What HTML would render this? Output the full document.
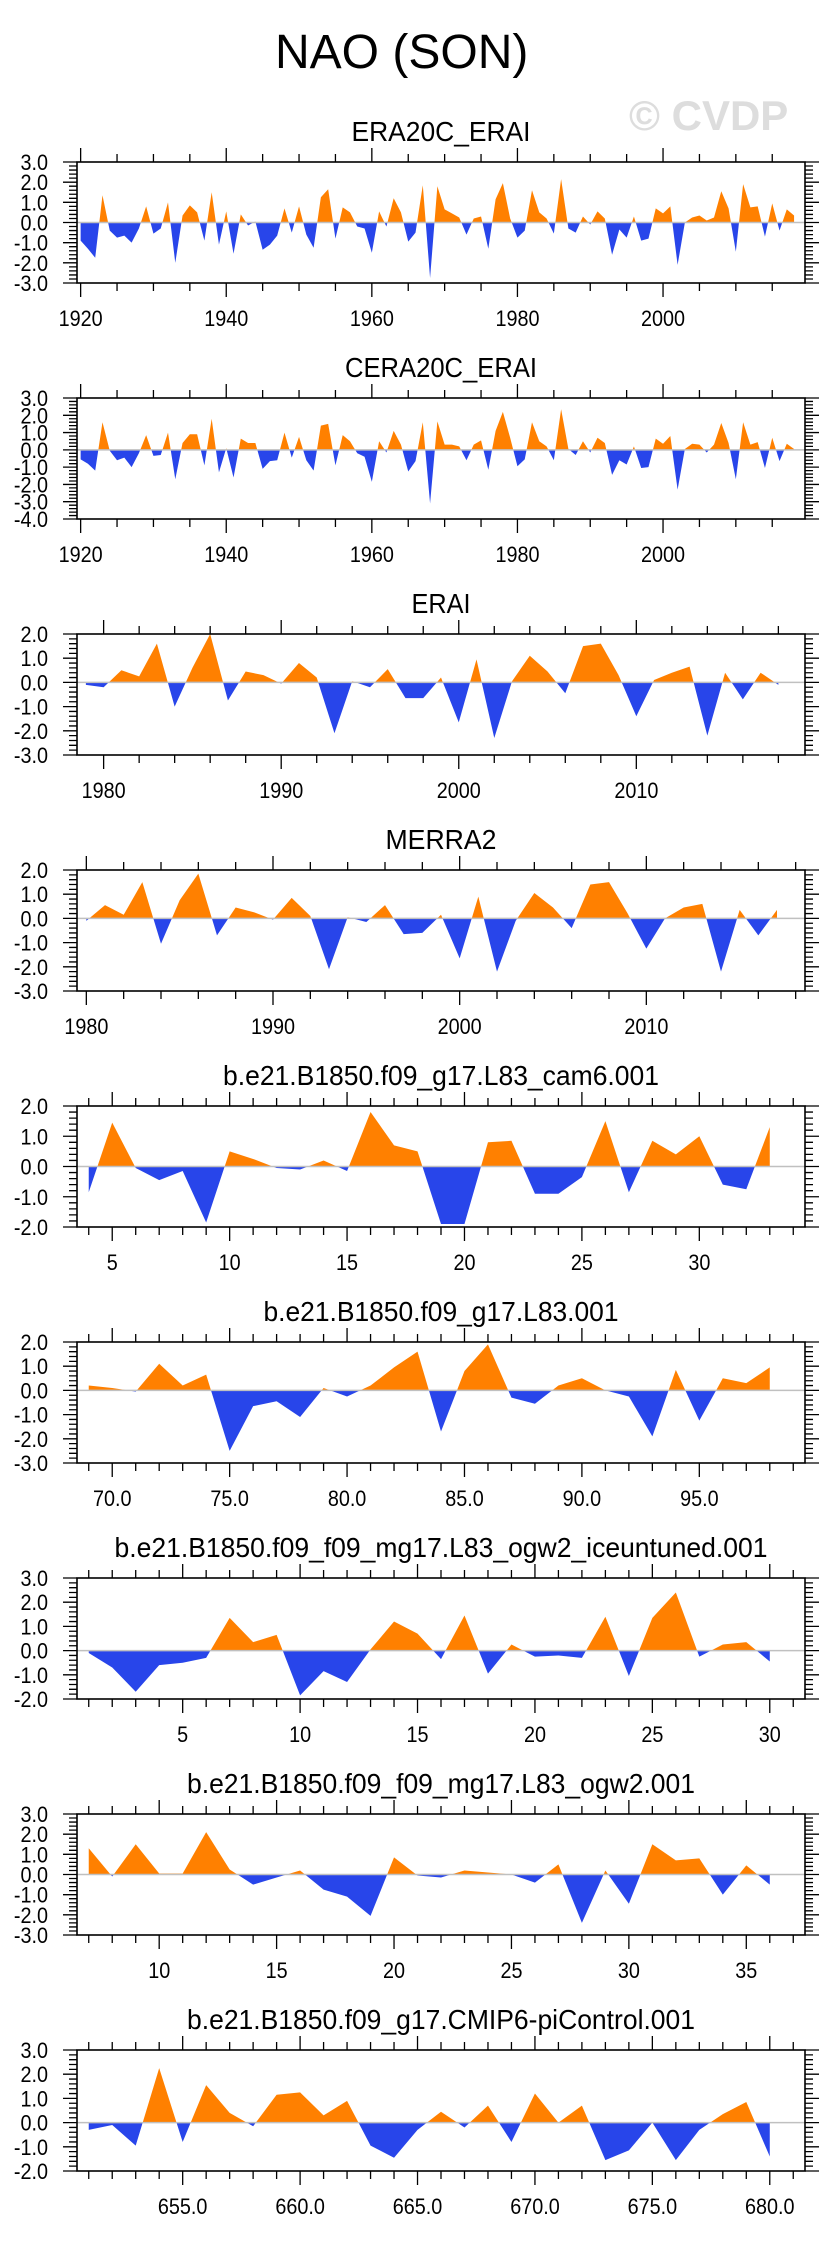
<!DOCTYPE html>
<html><head><meta charset="utf-8"><title>NAO (SON)</title>
<style>
html,body{margin:0;padding:0;background:#fff;}
svg{display:block;font-family:"Liberation Sans",Arial,sans-serif;}
</style></head>
<body>
<svg id="chart" width="829" height="2245" viewBox="0 0 829 2245" xmlns="http://www.w3.org/2000/svg">
<rect x="0" y="0" width="829" height="2245" fill="#fff"/>
<text x="275" y="68" font-size="48" fill="#000">NAO (SON)</text>
<text x="629" y="130" font-size="42" font-weight="bold" fill="#dddddd">© CVDP</text>
</svg>
<script>
// ---- data ----
const era20cStart = 1920;
const era20cValues = [-0.9,-1.3,-1.75,1.35,-0.4,-0.75,-0.65,-1.0,-0.3,0.8,-0.55,-0.3,1.0,-2.0,0.35,0.85,0.5,-0.9,1.5,-1.1,0.55,-1.55,0.4,-0.15,0.05,-1.35,-1.1,-0.65,0.7,-0.5,0.8,-0.6,-1.25,1.25,1.65,-0.8,0.75,0.5,-0.2,-0.3,-1.5,0.55,-0.2,1.2,0.5,-0.95,-0.5,1.85,-2.75,1.8,0.65,0.45,0.25,-0.6,0.2,0.3,-1.3,1.15,1.95,0.2,-0.75,-0.4,1.6,0.5,0.2,-0.55,2.15,-0.3,-0.5,0.3,-0.1,0.55,0.2,-1.6,-0.35,-0.75,0.3,-0.9,-0.8,0.7,0.45,0.8,-2.1,0.0,0.25,0.35,0.1,0.25,1.55,0.7,-1.45,1.9,0.75,0.8,-0.7,0.95,-0.4,0.65,0.35];
const cera20cStart = 1920;
const cera20cValues = [-0.55,-0.8,-1.2,1.6,-0.05,-0.6,-0.45,-1.0,-0.2,0.85,-0.35,-0.3,1.0,-1.7,0.4,0.9,0.9,-0.9,1.8,-1.3,0.1,-1.6,0.65,0.4,0.4,-1.1,-0.65,-0.6,1.0,-0.45,0.75,-0.6,-1.2,1.4,1.5,-0.9,0.85,0.5,-0.2,-0.4,-1.85,0.5,-0.15,1.1,0.3,-1.25,-0.65,1.6,-3.1,1.65,0.3,0.3,0.2,-0.6,0.3,0.55,-1.15,1.1,2.2,0.7,-0.95,-0.55,1.6,0.5,0.2,-0.6,2.35,0.05,-0.3,0.5,-0.15,0.7,0.4,-1.45,-0.6,-0.85,0.2,-1.05,-1.0,0.65,0.35,0.8,-2.3,0.05,0.35,0.3,-0.15,0.3,1.55,0.4,-1.7,1.6,0.3,0.45,-1.05,0.7,-0.65,0.35,0.05];
const eraiStart = 1979;
const eraiValues = [-0.1,-0.2,0.5,0.25,1.6,-1.0,0.6,2.0,-0.75,0.45,0.3,-0.05,0.8,0.2,-2.1,0.05,-0.2,0.55,-0.65,-0.65,0.2,-1.65,0.95,-2.3,0.05,1.1,0.45,-0.45,1.5,1.6,0.3,-1.4,0.1,0.4,0.65,-2.2,0.4,-0.7,0.4,-0.1];
const merra2Start = 1980;
const merra2Values = [-0.1,0.55,0.15,1.5,-1.05,0.75,1.85,-0.7,0.45,0.25,-0.05,0.85,0.1,-2.1,0.05,-0.15,0.55,-0.65,-0.6,0.15,-1.65,0.9,-2.2,-0.1,1.05,0.45,-0.4,1.4,1.5,0.2,-1.25,0.0,0.45,0.6,-2.2,0.35,-0.7,0.35];
const cam6Start = 4;
const cam6Values = [-0.85,1.45,-0.05,-0.45,-0.15,-1.85,0.5,0.25,-0.05,-0.1,0.2,-0.15,1.8,0.7,0.5,-1.9,-1.9,0.8,0.85,-0.9,-0.9,-0.35,1.5,-0.85,0.85,0.4,1.0,-0.6,-0.75,1.3];
const l83Start = 69;
const l83Values = [0.2,0.1,-0.05,1.1,0.2,0.65,-2.5,-0.65,-0.45,-1.1,0.1,-0.25,0.2,0.95,1.6,-1.7,0.8,1.9,-0.3,-0.55,0.2,0.5,0.0,-0.25,-1.9,0.85,-1.25,0.5,0.3,0.95];
const iceStart = 1;
const iceValues = [-0.1,-0.7,-1.7,-0.6,-0.5,-0.3,1.35,0.35,0.65,-1.85,-0.85,-1.3,0.05,1.2,0.7,-0.35,1.45,-0.95,0.25,-0.25,-0.2,-0.3,1.4,-1.05,1.35,2.4,-0.25,0.25,0.35,-0.45];
const ogw2Start = 7;
const ogw2Values = [1.3,-0.1,1.5,0.05,0.05,2.1,0.25,-0.5,-0.15,0.2,-0.75,-1.1,-2.05,0.85,-0.05,-0.15,0.2,0.1,0.0,-0.4,0.5,-2.4,0.2,-1.45,1.5,0.7,0.8,-1.0,0.45,-0.5];
const piStart = 651;
const piValues = [-0.3,-0.1,-0.95,2.25,-0.8,1.55,0.4,-0.15,1.15,1.25,0.3,0.9,-0.95,-1.45,-0.3,0.45,-0.2,0.7,-0.8,1.2,0.0,0.7,-1.55,-1.15,0.0,-1.55,-0.3,0.35,0.85,-1.4];

const panelTitles = ["ERA20C_ERAI","CERA20C_ERAI","ERAI","MERRA2","b.e21.B1850.f09_g17.L83_cam6.001","b.e21.B1850.f09_g17.L83.001","b.e21.B1850.f09_f09_mg17.L83_ogw2_iceuntuned.001","b.e21.B1850.f09_f09_mg17.L83_ogw2.001","b.e21.B1850.f09_g17.CMIP6-piControl.001"];
const panelStarts = [era20cStart,cera20cStart,eraiStart,merra2Start,cam6Start,l83Start,iceStart,ogw2Start,piStart];
const panelValues = [era20cValues,cera20cValues,eraiValues,merra2Values,cam6Values,l83Values,iceValues,ogw2Values,piValues];
const yMins = [-3,-4,-3,-3,-2,-3,-2,-3,-2];
const yMaxs = [3,3,2,2,2,2,3,3,3];
const xMajorSteps = [20,20,10,10,5,5,5,5,5];
const xMinorSteps = [5,5,2,2,1,1,1,1,1];
const xLabelDecimals = [0,0,0,0,0,1,0,0,1];

// ---- layout (styles) ----
const NS = "http://www.w3.org/2000/svg";
const svg = document.getElementById("chart");
const L = 77, R = 805, H = 121, TOP0 = 162, STEP = 236;
const titleWidths = [179,192,59,111,436,355,653,508,508];
const ORANGE = "#ff8000", BLUE = "#2845ea";

function mk(tag, attrs, parent){
  const e = document.createElementNS(NS, tag);
  for (const k in attrs) e.setAttribute(k, attrs[k]);
  (parent||svg).appendChild(e);
  return e;
}

for (let p = 0; p < panelValues.length; p++){
  const vals = panelValues[p], start = panelStarts[p];
  const top = TOP0 + STEP*p, bot = top + H;
  const xmin = start - 0.5, xmax = start + vals.length - 1 + 1.5;
  const ymin = yMins[p], ymax = yMaxs[p];
  const xs = v => L + (v - xmin) / (xmax - xmin) * (R - L);
  const ys = v => bot - (v - ymin) / (ymax - ymin) * H;
  const g = mk("g", {});
  
  

  const t = mk("text", {x: (L+R)/2, y: top-21, "font-size": 28, "text-anchor": "middle", fill: "#000", textLength: titleWidths[p], lengthAdjust: "spacingAndGlyphs"}, g);
  t.textContent = panelTitles[p];
  
  

  const y0 = ys(0);
  let d = "M" + xs(start).toFixed(2) + "," + y0.toFixed(2);
  vals.forEach((v,i) => { d += " L" + xs(start+i).toFixed(2) + "," + ys(v).toFixed(2); });
  d += " L" + xs(start+vals.length-1).toFixed(2) + "," + y0.toFixed(2) + " Z";
  const cpA = mk("clipPath", {id: "ca"+p}, g); mk("rect", {x: L, y: top, width: R-L, height: y0-top}, cpA);
  const cpB = mk("clipPath", {id: "cb"+p}, g); mk("rect", {x: L, y: y0, width: R-L, height: bot-y0}, cpB);
  const fa = mk("path", {d: d, fill: ORANGE, "clip-path": "url(#ca"+p+")"}, g);
  
  
  const fb = mk("path", {d: d, fill: BLUE, "clip-path": "url(#cb"+p+")"}, g);
  
  
  const zl = mk("line", {x1: L, x2: R, y1: y0, y2: y0, stroke: "#c0c0c0", "stroke-width": 1.5}, g);
  
  

  const fr = mk("rect", {x: L, y: top, width: R-L, height: H, fill: "none", stroke: "#000", "stroke-width": 1.6}, g);
  
  

  let tk = "";
  const nMinor = Math.round((ymax-ymin)/0.2);
  for (let i = 0; i <= nMinor; i++){
    const v = ymin + i*0.2, y = ys(v).toFixed(2);
    const major = i % 5 === 0, len = major ? 14 : 8;
    tk += `M${L},${y} L${L-len},${y} M${R},${y} L${R+len},${y} `;
  }
  const majorX = xMajorSteps[p], minorX = xMinorSteps[p];
  for (let v = Math.ceil(xmin/minorX)*minorX; v <= xmax; v += minorX){
    const x = xs(v).toFixed(2), major = (v % majorX) === 0, len = major ? 14 : 8;
    tk += `M${x},${bot} L${x},${bot+len} M${x},${top} L${x},${top-len} `;
  }
  const tp = mk("path", {d: tk, stroke: "#000", "stroke-width": 1.3, fill: "none"}, g);
  
  

  for (let v = ymin; v <= ymax; v++){
    const lt = mk("text", {x: 0, y: 0, transform: `translate(48,${(ys(v)+8).toFixed(2)}) scale(0.9,1)`, "font-size": 22, "text-anchor": "end", fill: "#000"}, g);
    lt.textContent = v.toFixed(1);
    
    
  }
  for (let v = Math.ceil(xmin/majorX)*majorX; v <= xmax; v += majorX){
    const lt = mk("text", {x: 0, y: 0, transform: `translate(${xs(v).toFixed(2)},${bot+43}) scale(0.9,1)`, "font-size": 22, "text-anchor": "middle", fill: "#000"}, g);
    lt.textContent = v.toFixed(xLabelDecimals[p]);
    
    
  }
}
</script>
</body></html>
